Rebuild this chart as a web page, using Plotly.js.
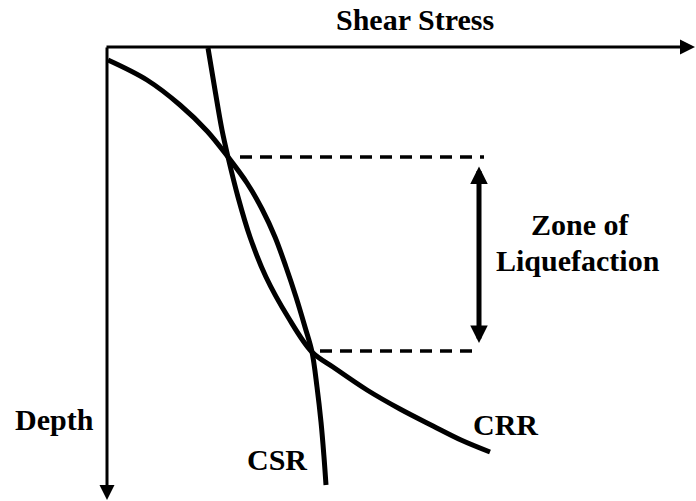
<!DOCTYPE html>
<html>
<head>
<meta charset="utf-8">
<script src="https://cdn.plot.ly/plotly-3.0.1.min.js"></script>
<style>
html,body{margin:0;padding:0;background:#fff;}
#chart{width:696px;height:501px;}
</style>
</head>
<body>
<div id="chart"></div>
<script>
// Schematic values: shear stress (x, to the right) and depth (y, downward), from the origin
var csrShear = [1, 40, 73, 100, 121, 140, 155, 168, 179, 189, 198, 205, 210, 214, 217, 219];
var csrDepth = [13, 33, 58, 84, 110, 136, 162, 190, 220, 250, 280, 305, 340, 375, 410, 438];

var crrShear = [101, 108, 115, 121, 131, 143, 159, 181, 205, 226, 260, 293, 326, 354, 383];
var crrDepth = [1, 43, 83, 110, 150, 190, 230, 270, 305, 320, 343, 362, 379, 393, 405];

// Intersection depths (top and bottom of liquefaction zone)
var zoneTopDepth = 110;
var zoneBottomDepth = 304;
var zoneTopShear = [133, 377];
var zoneBottomShear = [213, 370];
var zoneArrowShear = 372;
var zoneArrowDepth = [118, 296];

var axisXEnd = 588;
var axisYEnd = 453;

var labels = {
  xTitle: "Shear Stress",
  yTitle: "Depth",
  zone1: "Zone of",
  zone2: "Liquefaction",
  csr: "CSR",
  crr: "CRR"
};

var traces = [
  {x: csrShear, y: csrDepth, mode: "lines", line: {color: "#000", width: 5, shape: "spline", smoothing: 1}},
  {x: crrShear, y: crrDepth, mode: "lines", line: {color: "#000", width: 5, shape: "spline", smoothing: 1}},
  {x: zoneTopShear, y: [zoneTopDepth, zoneTopDepth], mode: "lines", line: {color: "#000", width: 3.5, dash: "12px,8px"}},
  {x: zoneBottomShear, y: [zoneBottomDepth, zoneBottomDepth], mode: "lines", line: {color: "#000", width: 3.5, dash: "12px,8px"}}
];

function txt(t, x, y){
  return {text: "<b>" + t + "</b>", x: x, y: y, xref: "x", yref: "y", showarrow: false,
          font: {family: "Times New Roman", size: 30, color: "#000"}};
}

var annotations = [
  txt(labels.xTitle, 308, -28),
  txt(labels.zone1, 473, 177),
  txt(labels.zone2, 471, 213),
  txt(labels.yTitle, -53, 372),
  txt(labels.csr, 170, 412),
  txt(labels.crr, 398, 377),
  {x: axisXEnd, y: 0, ax: -2, ay: 0, xref: "x", yref: "y", axref: "x", ayref: "y", text: "", showarrow: true,
   arrowhead: 2, arrowsize: 1, arrowwidth: 3, arrowcolor: "#000"},
  {x: 0, y: axisYEnd, ax: 0, ay: -1, xref: "x", yref: "y", axref: "x", ayref: "y", text: "", showarrow: true,
   arrowhead: 2, arrowsize: 1, arrowwidth: 3, arrowcolor: "#000"},
  {x: zoneArrowShear, y: zoneArrowDepth[1], ax: zoneArrowShear, ay: zoneArrowDepth[0], xref: "x", yref: "y", axref: "x", ayref: "y",
   text: "", showarrow: true, arrowside: "end+start", arrowhead: 2, startarrowhead: 2, arrowsize: 0.7, startarrowsize: 0.7,
   arrowwidth: 5, arrowcolor: "#000"}
];

var layout = {
  width: 696, height: 501,
  margin: {l: 0, r: 0, t: 0, b: 0},
  font: {family: "Times New Roman", color: "#000"},
  showlegend: false,
  xaxis: {range: [-107, 589], visible: false},
  yaxis: {range: [454, -47], visible: false},
  annotations: annotations
};

Plotly.newPlot("chart", traces, layout, {staticPlot: true});
</script>
</body>
</html>
